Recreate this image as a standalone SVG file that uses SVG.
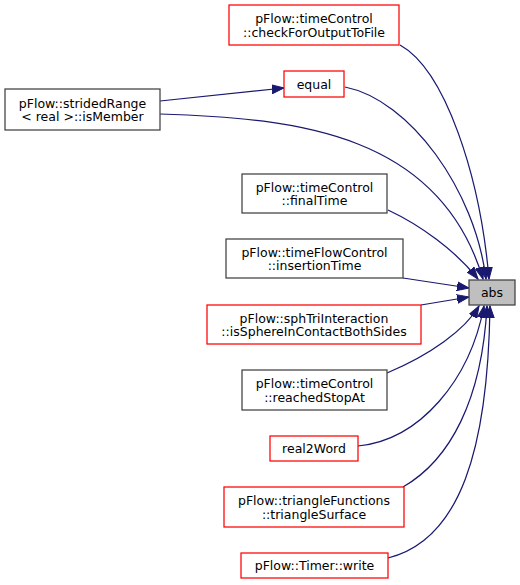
<svg xmlns="http://www.w3.org/2000/svg" width="520" height="585" viewBox="0 0 520 585">
<defs>
<marker id="ah" markerUnits="userSpaceOnUse" markerWidth="14" markerHeight="10" viewBox="0 -5 14 10" refX="12" refY="0" orient="auto">
<path d="M0,-4.4 L12,0 L0,4.4 z" fill="#191970" stroke="#191970" stroke-width="1"/>
</marker>
<style>
.n rect{fill:#ffffff;stroke-width:1.25}
.blk rect{stroke:#404040}
.red rect{stroke:#ff0000}
.cur rect{fill:#bfbfbf;stroke:#404040}
text{font-family:"DejaVu Sans","Liberation Sans",sans-serif;font-size:12.5px;text-anchor:middle;fill:#000}
.e path{fill:none;stroke:#191970;stroke-width:1.25;marker-end:url(#ah)}
</style>
</defs>
<rect width="520" height="585" fill="#ffffff"/>
<g class="e" id="edges">
<path d="M400,45 C445,70 480,175 489,279"/>
<path d="M345,87 C410,100 475,190 486,279"/>
<path d="M160,114 C300,118 440,135 483,279"/>
<path d="M160,101 L284,88"/>
<path d="M388,210 C420,225 455,250 478,279"/>
<path d="M403,278 L469,288"/>
<path d="M421,305 L469,297"/>
<path d="M387,373 C430,355 465,330 479,306"/>
<path d="M358,446 C420,440 470,380 484,306"/>
<path d="M403,487 C450,460 482,400 487,306"/>
<path d="M388,558 C460,540 488,450 490,306"/>
</g>
<g id="abs" class="n cur"><rect x="469" y="280" width="46" height="25"/><text x="492" y="297">abs</text></g>
<g id="checkForOutputToFile" class="n red"><rect x="229" y="5" width="170" height="40"/><text x="314" y="23">pFlow::timeControl</text><text x="314" y="36.5">::checkForOutputToFile</text></g>
<g id="equal" class="n red"><rect x="284" y="71" width="60" height="26"/><text x="314" y="88.5">equal</text></g>
<g id="isMember" class="n blk"><rect x="5" y="89" width="155" height="41"/><text x="82.5" y="107.5">pFlow::stridedRange</text><text x="82.5" y="121">&lt; real &gt;::isMember</text></g>
<g id="finalTime" class="n blk"><rect x="242" y="174" width="145" height="39"/><text x="314.5" y="191.5">pFlow::timeControl</text><text x="314.5" y="205">::finalTime</text></g>
<g id="insertionTime" class="n blk"><rect x="226" y="239" width="177" height="39"/><text x="314.5" y="256.5">pFlow::timeFlowControl</text><text x="314.5" y="270">::insertionTime</text></g>
<g id="isSphereInContactBothSides" class="n red"><rect x="207" y="305" width="214" height="39"/><text x="314" y="322.5">pFlow::sphTriInteraction</text><text x="314" y="336">::isSphereInContactBothSides</text></g>
<g id="reachedStopAt" class="n blk"><rect x="242" y="370" width="145" height="40"/><text x="314.5" y="388">pFlow::timeControl</text><text x="314.5" y="401.5">::reachedStopAt</text></g>
<g id="real2Word" class="n red"><rect x="270" y="436" width="88" height="25"/><text x="314" y="453">real2Word</text></g>
<g id="triangleSurface" class="n red"><rect x="224" y="487" width="180" height="40"/><text x="314" y="505">pFlow::triangleFunctions</text><text x="314" y="518.5">::triangleSurface</text></g>
<g id="write" class="n red"><rect x="241" y="553" width="147" height="25"/><text x="314.5" y="570">pFlow::Timer::write</text></g>
</svg>
